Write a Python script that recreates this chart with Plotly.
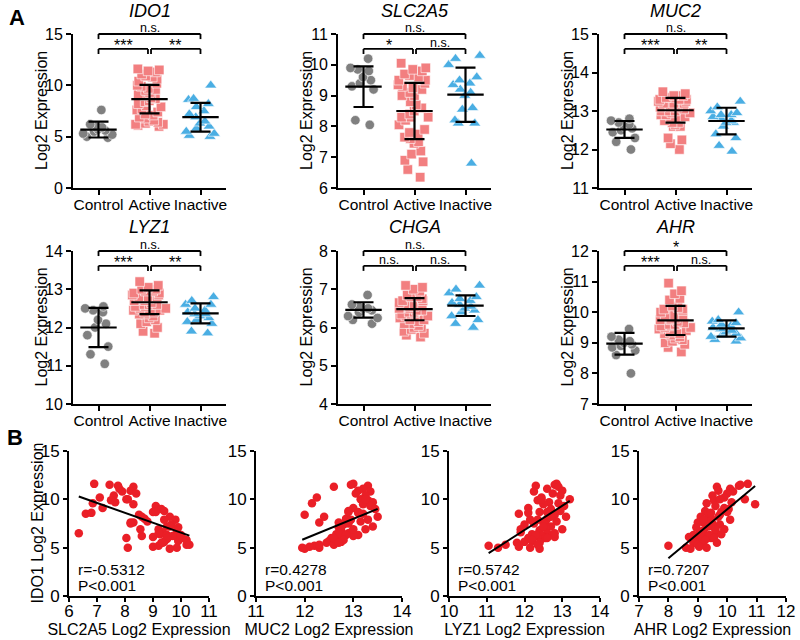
import plotly.graph_objects as go

W, H = 800, 640
FONT = "Liberation Sans, Arial, Helvetica, sans-serif"

# ---------------- data ----------------
groups = ["Control", "Active", "Inactive"]
genes_A = ["IDO1", "SLC2A5", "MUC2", "LYZ1", "CHGA", "AHR"]

IDO1_control = [7.6, 6.2, 6.0, 5.9, 5.7, 5.6, 5.5, 5.3, 5.2, 5.0, 4.9]
IDO1_active = [11.6, 11.5, 11.4, 11.3, 11.1, 10.9, 10.8, 10.6, 10.4, 10.2, 10.0, 9.9, 9.7, 9.6, 9.5,
               9.3, 9.1, 9.0, 8.8, 8.7, 8.5, 8.4, 8.2, 8.0, 7.9, 7.7, 7.6, 7.4, 7.2, 7.1, 6.9, 6.8,
               6.6, 6.5, 6.4, 6.3, 6.2, 6.2, 6.1, 6.0]
IDO1_inactive = [10.0, 8.7, 8.6, 8.2, 7.9, 7.5, 7.2, 6.9, 6.5, 6.3, 6.0, 5.8, 5.5, 5.3, 5.1, 5.0]

SLC2A5_control = [8.2, 9.8, 8.05, 9.5, 9.9, 9.4, 9.3, 10.2, 9.2, 9.85, 9.6]
SLC2A5_active = [6.9, 7.45, 7.75, 8.3, 7.8, 8.2, 7.9, 8.4, 7.6, 7.1, 8.05, 7.5, 7.65, 6.85, 8.3,
                 9.1, 7.2, 9.3, 9.4, 9.0, 6.6, 8.5, 9.6, 8.7, 9.8, 8.8, 8.3, 9.65, 9.5, 9.9, 9.2,
                 9.85, 9.35, 6.35, 9.25, 9.5, 8.6, 9.7, 9.0, 10.05]
SLC2A5_inactive = [8.1, 9.1, 6.8, 8.6, 9.4, 8.2, 9.6, 8.55, 9.2, 10.0, 9.5, 10.2, 9.35, 10.3, 9.0, 8.1]

MUC2_control = [12.7, 12.8, 12.55, 12.65, 12.5, 12.75, 12.45, 12.6, 12.2, 12.3, 12.0]
MUC2_active = [13.0, 12.95, 13.3, 12.6, 13.2, 13.1, 13.35, 13.05, 13.25, 12.25, 13.15, 13.3, 13.4,
               12.15, 13.2, 13.35, 13.0, 13.45, 12.9, 13.1, 13.2, 12.0, 13.5, 12.85, 13.3, 13.15,
               12.3, 12.8, 13.4, 12.7, 13.25, 12.75, 12.95, 12.9, 12.65, 13.1, 12.8, 13.0, 12.7, 12.6]
MUC2_inactive = [13.25, 12.9, 13.1, 12.4, 12.95, 12.9, 12.75, 13.0, 12.7, 12.85, 12.6, 12.8, 12.7,
                 12.3, 12.1, 11.95]

LYZ1_control = [12.55, 12.5, 12.1, 12.45, 12.2, 12.0, 11.8, 11.5, 11.05, 11.3, 12.4]
LYZ1_active = [12.85, 12.8, 12.3, 12.9, 12.6, 13.0, 12.25, 12.75, 12.95, 12.45, 13.2, 12.35, 12.65,
               12.9, 12.5, 13.05, 12.1, 12.7, 12.95, 12.4, 11.85, 12.8, 13.1, 12.6, 12.15, 12.85,
               12.5, 12.0, 12.7, 12.55, 13.0, 12.4, 11.9, 12.6, 12.2, 12.75, 12.45, 12.35, 12.8, 12.55]
LYZ1_inactive = [12.45, 12.6, 12.1, 12.7, 12.35, 12.25, 12.5, 11.9, 12.8, 12.3, 12.6, 12.2, 12.4,
                 12.35, 11.85, 12.15]

CHGA_control = [6.85, 6.6, 6.55, 6.5, 6.5, 6.45, 6.4, 6.3, 6.25, 6.2, 6.1]
CHGA_active = [7.1, 7.05, 7.0, 6.95, 6.85, 6.8, 6.8, 6.75, 6.7, 6.7, 6.65, 6.6, 6.6, 6.55, 6.55,
               6.5, 6.5, 6.45, 6.45, 6.4, 6.4, 6.35, 6.35, 6.3, 6.3, 6.25, 6.2, 6.2, 6.15, 6.1,
               6.1, 6.05, 6.0, 6.0, 5.95, 5.9, 5.85, 5.8, 5.75, 6.6]
CHGA_inactive = [7.1, 7.0, 6.9, 6.8, 6.75, 6.7, 6.65, 6.6, 6.55, 6.5, 6.45, 6.4, 6.3, 6.2, 6.1, 6.0]

AHR_control = [9.2, 9.1, 9.45, 8.9, 8.95, 9.05, 8.85, 9.0, 8.0, 8.6, 8.75]
AHR_active = [10.7, 10.45, 10.4, 9.65, 10.1, 9.7, 10.2, 10.0, 9.5, 9.9, 10.6, 9.55, 10.15, 9.3,
              10.95, 9.6, 9.9, 10.05, 9.25, 9.8, 9.35, 9.75, 9.1, 9.45, 10.1, 9.4, 9.0, 9.75, 9.5,
              8.95, 9.9, 9.2, 9.6, 9.05, 9.8, 8.85, 9.3, 9.55, 8.7, 9.15]
AHR_inactive = [9.75, 10.0, 9.45, 9.7, 9.2, 9.5, 9.35, 9.6, 9.1, 9.4, 9.55, 9.25, 9.65, 9.15, 9.05, 9.3]

# mean and SD per group, as drawn
IDO1_mean, IDO1_sd = [5.69, 8.66, 6.90], [0.77, 1.39, 1.40]
SLC2A5_mean, SLC2A5_sd = [9.29, 8.50, 9.03], [0.66, 0.91, 0.88]
MUC2_mean, MUC2_sd = [12.52, 13.02, 12.74], [0.22, 0.32, 0.345]
LYZ1_mean, LYZ1_sd = [12.00, 12.66, 12.37], [0.515, 0.31, 0.26]
CHGA_mean, CHGA_sd = [6.46, 6.48, 6.57], [0.20, 0.29, 0.27]
AHR_mean, AHR_sd = [8.97, 9.73, 9.47], [0.355, 0.475, 0.265]

y_ranges_A = [[0, 15], [6, 11], [11, 15], [10, 14], [4, 8], [7, 12]]
y_dticks_A = [5, 1, 1, 1, 1, 1]
y_title_A = "Log2 Expression"

# significance labels: [Control-Inactive, Control-Active, Active-Inactive]
sig_labels = [["n.s.", "***", "**"], ["n.s.", "*", "n.s."], ["n.s.", "***", "**"],
              ["n.s.", "***", "**"], ["n.s.", "n.s.", "n.s."], ["*", "***", "n.s."]]

# panel B
B_x_genes = ["SLC2A5", "MUC2", "LYZ1", "AHR"]
B_y_title = "IDO1 Log2 Expression"
B_r_text = ["r=-0.5312", "r=0.4278", "r=0.5742", "r=0.7207"]
B_p_text = ["P<0.001", "P<0.001", "P<0.001", "P<0.001"]
B_slope = [-1.026, 2.06, 2.51, 2.53]
B_intercept = [16.81, -18.80, -23.30, -16.33]
B_x_ranges = [[6, 11], [11, 14], [10, 14], [7, 12]]
B_y_range = [0, 15]

data = {
    "IDO1": [IDO1_control, IDO1_active, IDO1_inactive],
    "SLC2A5": [SLC2A5_control, SLC2A5_active, SLC2A5_inactive],
    "MUC2": [MUC2_control, MUC2_active, MUC2_inactive],
    "LYZ1": [LYZ1_control, LYZ1_active, LYZ1_inactive],
    "CHGA": [CHGA_control, CHGA_active, CHGA_inactive],
    "AHR": [AHR_control, AHR_active, AHR_inactive],
}
summary = {
    "IDO1": (IDO1_mean, IDO1_sd), "SLC2A5": (SLC2A5_mean, SLC2A5_sd),
    "MUC2": (MUC2_mean, MUC2_sd), "LYZ1": (LYZ1_mean, LYZ1_sd),
    "CHGA": (CHGA_mean, CHGA_sd), "AHR": (AHR_mean, AHR_sd),
}

# ---------------- styling / layout ----------------
grp_color = ["#808080", "#F27F80", "#4AAEE3"]
grp_symbol = ["circle", "square", "triangle-up"]
grp_size = [9.5, 9.5, 10.5]
dot_red = "#EA1F27"

A_x_px = [(73, 226), (338, 491), (599, 752)]
A_y_px = [(34, 188), (251, 404)]
B_x_px = [(69, 209), (256, 402), (449, 600), (639, 786)]
B_y_px = (451, 596)
YTITLE_OFFSET = 32  # px left of the y axis line


def xdom(a, b):
    return [a / W, b / W]


def ydom(top, bot):
    return [1 - bot / H, 1 - top / H]


def axname(i):
    return ("x", "y") if i == 1 else (f"x{i}", f"y{i}")


axis_common = dict(showline=True, linecolor="black", linewidth=2, ticks="outside", ticklen=5,
                   tickwidth=2, tickcolor="black", showgrid=False, zeroline=False,
                   tickfont=dict(family=FONT, size=16, color="black"), automargin=False,
                   fixedrange=True)

fig = go.Figure()
layout = dict(width=W, height=H, margin=dict(l=0, r=0, t=0, b=0), paper_bgcolor="white",
              plot_bgcolor="white", showlegend=False, template="none",
              font=dict(family=FONT, color="black"))
shapes, annotations = [], []

# ---- Panel A ----
for gi, gene in enumerate(genes_A):
    ax = gi + 1
    xn, yn = axname(ax)
    row, col = divmod(gi, 3)
    for k, g in enumerate(groups):
        vals = data[gene][k]
        fig.add_trace(go.Box(
            x=[g] * len(vals), y=vals, xaxis=xn, yaxis=yn,
            boxpoints="all", jitter=1.0, pointpos=0, width=0.72,
            fillcolor="rgba(0,0,0,0)", line=dict(width=0, color="rgba(0,0,0,0)"),
            marker=dict(symbol=grp_symbol[k], size=grp_size[k], color=grp_color[k],
                        line=dict(width=0.6, color="white")),
            hoverinfo="y", showlegend=False))
    m, s = summary[gene]
    fig.add_trace(go.Scatter(
        x=groups, y=m, xaxis=xn, yaxis=yn, mode="markers", cliponaxis=False,
        marker=dict(symbol="line-ew", size=26, color="black", line=dict(width=2.2, color="black")),
        error_y=dict(type="data", array=s, visible=True, thickness=2.2, width=10, color="black"),
        showlegend=False, hoverinfo="skip"))

    xa = dict(axis_common, domain=xdom(*A_x_px[col]), anchor=yn, type="category",
              categoryorder="array", categoryarray=groups, range=[-0.5, 2.5],
              tickangle=0, ticklabelstandoff=-4,
              tickfont=dict(family=FONT, size=15.5, color="black"))
    ya = dict(axis_common, domain=ydom(*A_y_px[row]), anchor=xn, range=y_ranges_A[gi],
              dtick=y_dticks_A[gi], tick0=0)
    layout["xaxis" if ax == 1 else f"xaxis{ax}"] = xa
    layout["yaxis" if ax == 1 else f"yaxis{ax}"] = ya

    # y-axis title
    top_px, bot_px = A_y_px[row]
    annotations.append(dict(text=y_title_A, xref="paper", yref="paper",
                            x=(A_x_px[col][0] - YTITLE_OFFSET) / W, y=1 - (top_px + bot_px) / 2 / H,
                            textangle=-90, showarrow=False, xanchor="center", yanchor="middle",
                            font=dict(family=FONT, size=16, color="black")))

    # gene title
    ytitle_px = 11 if row == 0 else 227
    annotations.append(dict(text=f"<i>{gene}</i>", xref=f"{xn} domain", x=0.5, yref="paper",
                            y=1 - ytitle_px / H, showarrow=False, xanchor="center", yanchor="middle",
                            borderpad=0, font=dict(family=FONT, size=18, color="black")))

    # significance brackets (domain coords)
    c0, c1, c2 = 1 / 6, 0.5, 5 / 6
    gap = 0.01
    d = 0.033
    ytop, ylow = 1.0, 0.903
    segs = [
        (c0, ytop - d, c0, ytop), (c0, ytop, c2, ytop), (c2, ytop, c2, ytop - d),
        (c0, ylow - d, c0, ylow), (c0, ylow, c1 - gap, ylow), (c1 - gap, ylow, c1 - gap, ylow - d),
        (c1 + gap, ylow - d, c1 + gap, ylow), (c1 + gap, ylow, c2, ylow), (c2, ylow, c2, ylow - d),
    ]
    for (x0, y0, x1, y1) in segs:
        shapes.append(dict(type="line", xref=f"{xn} domain", yref=f"{yn} domain",
                           x0=x0, y0=y0, x1=x1, y1=y1, line=dict(color="black", width=1.8)))
    for lab, xc, yc in zip(sig_labels[gi], [c2 / 2 + c0 / 2, (c0 + c1) / 2, (c1 + c2) / 2],
                           [ytop, ylow, ylow]):
        star = "*" in lab
        annotations.append(dict(text=lab, xref=f"{xn} domain", x=xc, yref=f"{yn} domain", y=yc,
                                showarrow=False, xanchor="center", yanchor="bottom", borderpad=0,
                                yshift=-6 if star else -2,
                                font=dict(family=FONT, size=16 if star else 12.5, color="black")))

# ---- Panel B ----
ido1_all = IDO1_control + IDO1_active + IDO1_inactive
for bi, gene in enumerate(B_x_genes):
    ax = 7 + bi
    xn, yn = axname(ax)
    xs = data[gene][0] + data[gene][1] + data[gene][2]
    fig.add_trace(go.Scatter(x=xs, y=ido1_all, xaxis=xn, yaxis=yn, mode="markers",
                             marker=dict(size=8.5, color=dot_red, line=dict(width=0)),
                             showlegend=False, hoverinfo="x+y"))
    lx = [min(xs), max(xs)]
    ly = [B_slope[bi] * v + B_intercept[bi] for v in lx]
    fig.add_trace(go.Scatter(x=lx, y=ly, xaxis=xn, yaxis=yn, mode="lines",
                             line=dict(color="black", width=2), showlegend=False, hoverinfo="skip"))
    xa = dict(axis_common, domain=xdom(*B_x_px[bi]), anchor=yn, range=B_x_ranges[bi], dtick=1,
              ticklen=4, ticklabelstandoff=-5, tickfont=dict(family=FONT, size=17, color="black"),
              title=dict(text=f"{gene} Log2 Expression", font=dict(family=FONT, size=16, color="black"),
                         standoff=0))
    ya = dict(axis_common, domain=ydom(*B_y_px), anchor=xn, range=B_y_range, dtick=5, ticklen=4,
              tickfont=dict(family=FONT, size=17, color="black"))
    layout["xaxis" if ax == 1 else f"xaxis{ax}"] = xa
    layout["yaxis" if ax == 1 else f"yaxis{ax}"] = ya
    if bi == 0:
        annotations.append(dict(text=B_y_title, xref="paper", yref="paper",
                                x=(B_x_px[0][0] - YTITLE_OFFSET) / W,
                                y=1 - (B_y_px[0] + B_y_px[1]) / 2 / H,
                                textangle=-90, showarrow=False, xanchor="center", yanchor="middle",
                                font=dict(family=FONT, size=16, color="black")))
    annotations.append(dict(text=B_r_text[bi], xref=f"{xn} domain", x=0, xshift=7, xanchor="left",
                            yref=f"{yn} domain", y=0.18, yanchor="middle", showarrow=False,
                            font=dict(family=FONT, size=15.5, color="black")))
    annotations.append(dict(text=B_p_text[bi], xref=f"{xn} domain", x=0, xshift=7, xanchor="left",
                            yref=f"{yn} domain", y=0.075, yanchor="middle", showarrow=False,
                            font=dict(family=FONT, size=15.5, color="black")))

# panel letters
annotations.append(dict(text="<b>A</b>", xref="paper", yref="paper", x=17 / W, y=1 - 17 / H,
                        showarrow=False, xanchor="center", yanchor="middle",
                        font=dict(family=FONT, size=22, color="black")))
annotations.append(dict(text="<b>B</b>", xref="paper", yref="paper", x=15 / W, y=1 - 437 / H,
                        showarrow=False, xanchor="center", yanchor="middle",
                        font=dict(family=FONT, size=22, color="black")))

layout["shapes"] = shapes
layout["annotations"] = annotations
fig.update_layout(**layout)
fig.write_html("out.html", config={"displayModeBar": False},
               post_script="document.body.style.margin='0px';document.body.style.padding='0px';")
